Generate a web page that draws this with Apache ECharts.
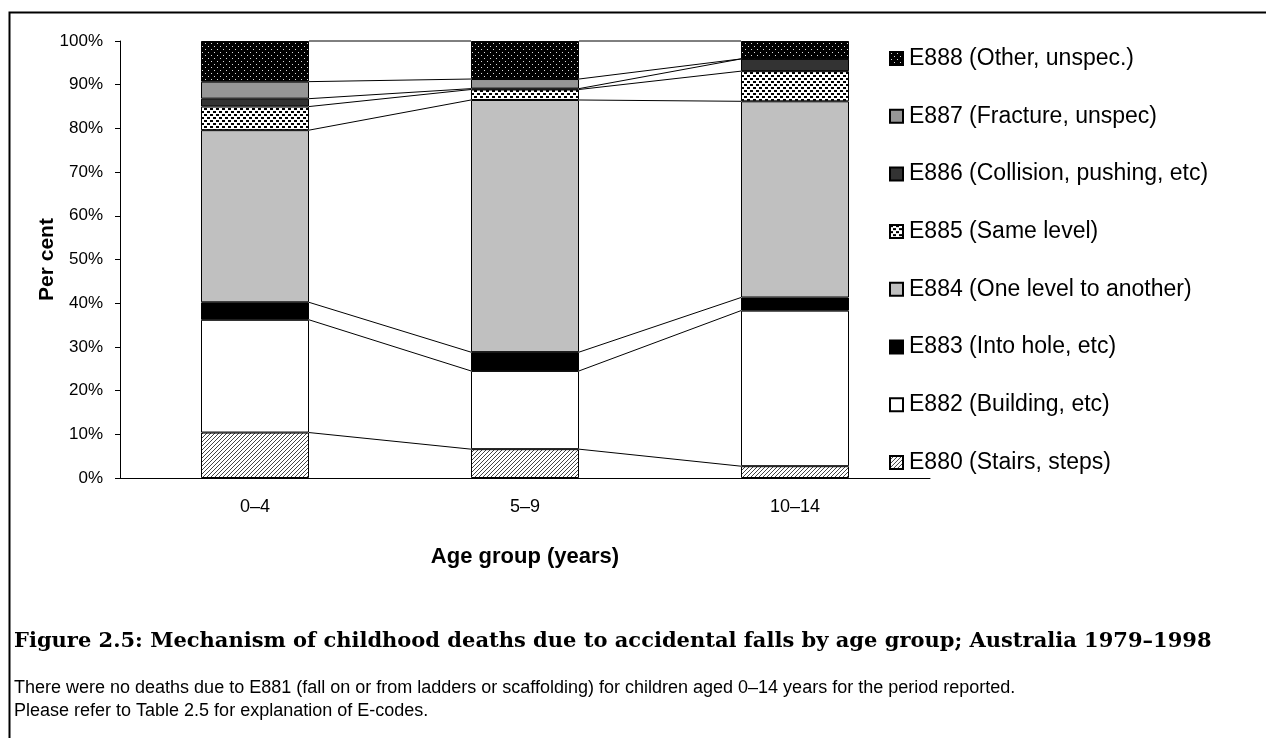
<!DOCTYPE html>
<html>
<head>
<meta charset="utf-8">
<script src="https://cdn.jsdelivr.net/npm/echarts@6/dist/echarts.min.js"></script>
<style>
html,body{margin:0;padding:0;background:#fff;}
#chart{width:1266px;height:738px;}
</style>
</head>
<body>
<div id="chart"></div>
<script>
// ---- data ----
const categories = ['0–4', '5–9', '10–14'];
const seriesNames = [
  'E880 (Stairs, steps)',
  'E882 (Building, etc)',
  'E883 (Into hole, etc)',
  'E884 (One level to another)',
  'E885 (Same level)',
  'E886 (Collision, pushing, etc)',
  'E887 (Fracture, unspec)',
  'E888 (Other, unspec.)'
];
const e880 = [10.4, 6.6, 2.7];
const e882 = [25.8, 17.9, 35.6];
const e883 = [4.0, 4.3, 3.0];
const e884 = [39.4, 57.7, 44.9];
const e885 = [5.4, 2.4, 6.9];
const e886 = [1.8, 0.2, 2.8];
const e887 = [3.9, 2.2, 0.0];
const e888 = [9.3, 8.7, 4.1];
const yTicks = [0, 10, 20, 30, 40, 50, 60, 70, 80, 90, 100];
const titleText = 'Figure 2.5: Mechanism of childhood deaths due to accidental falls by age group; Australia 1979–1998';
const note1 = 'There were no deaths due to E881 (fall on or from ladders or scaffolding) for children aged 0–14 years for the period reported.';
const note2 = 'Please refer to Table 2.5 for explanation of E-codes.';

const values = [e880, e882, e883, e884, e885, e886, e887, e888];

// ---- patterns ----
function tile(w, h, draw) {
  const c = document.createElement('canvas');
  c.width = w; c.height = h;
  const g = c.getContext('2d');
  draw(g);
  return { image: c, repeat: 'repeat' };
}
const patDots = tile(6, 6, g => {
  g.fillStyle = '#000'; g.fillRect(0, 0, 6, 6);
  g.fillStyle = '#ddd'; g.fillRect(1, 1, 1, 1); g.fillRect(4, 4, 1, 1);
});
const patSquares = tile(6, 6, g => {
  g.fillStyle = '#fff'; g.fillRect(0, 0, 6, 6);
  g.fillStyle = '#000'; g.fillRect(0, 0, 3, 2); g.fillRect(3, 3, 3, 2);
});
const patHatch = tile(4, 4, g => {
  g.fillStyle = '#fff'; g.fillRect(0, 0, 4, 4);
  g.fillStyle = '#444';
  g.fillRect(3, 0, 1, 1); g.fillRect(2, 1, 1, 1); g.fillRect(1, 2, 1, 1); g.fillRect(0, 3, 1, 1);
});

const fills = [patHatch, '#ffffff', '#000000', '#c0c0c0', patSquares, '#333333', '#969696', patDots];

const font = 'Liberation Sans, Arial, sans-serif';

const barSeries = seriesNames.map((name, k) => ({
  name: name,
  type: 'bar',
  stack: 'total',
  barWidth: '40%',
  data: values[k],
  itemStyle: { color: fills[k], borderColor: '#000', borderWidth: 1 },
  emphasis: { disabled: true }
}));

// series lines connecting segment tops between adjacent bars
const connector = {
  type: 'custom',
  name: 'connectors',
  silent: true,
  data: categories.slice(0, -1).map((c, i) => [i, 0]),
  encode: { x: 0, y: 1 },
  renderItem: function (params, api) {
    const i = api.value(0);
    const band = api.size([1, 0])[0];
    const half = band * 0.4 / 2;
    const children = [];
    let cumA = 0, cumB = 0;
    for (let k = 0; k < values.length; k++) {
      cumA += values[k][i];
      cumB += values[k][i + 1];
      const pa = api.coord([i, cumA]);
      const pb = api.coord([i + 1, cumB]);
      children.push({
        type: 'line',
        shape: { x1: pa[0] + half, y1: pa[1], x2: pb[0] - half, y2: pb[1] },
        style: { stroke: '#000', lineWidth: 1 }
      });
    }
    return { type: 'group', children: children };
  },
  z: 1
};

const chart = echarts.init(document.getElementById('chart'), null, { renderer: 'canvas' });
chart.setOption({
  animation: false,
  backgroundColor: '#fff',
  title: [
    { text: titleText, left: 14, top: 631, padding: 0,
      textStyle: { fontFamily: 'DejaVu Serif, serif', fontWeight: 'bold', fontSize: 21, color: '#000' } },
    { text: note1, left: 14, top: 679, padding: 0,
      textStyle: { fontFamily: font, fontWeight: 'normal', fontSize: 18, color: '#000' } },
    { text: note2, left: 14, top: 702, padding: 0,
      textStyle: { fontFamily: font, fontWeight: 'normal', fontSize: 18, color: '#000' } }
  ],
  graphic: [
    { type: 'rect', left: 7, top: 10, shape: { x: 0, y: 0, width: 1300, height: 800 },
      style: { fill: 'none', stroke: '#000', lineWidth: 2 }, silent: true, z: -10 }
  ],
  legend: {
    orient: 'vertical',
    left: 884,
    top: 42,
    itemWidth: 13,
    itemHeight: 13,
    itemGap: 34.7,
    icon: 'rect',
    selectedMode: false,
    data: seriesNames.slice().reverse(),
    textStyle: { fontFamily: font, fontSize: 23, color: '#000', padding: [0, 0, 0, 1] }
  },
  grid: { left: 120, top: 41, width: 810, height: 437, containLabel: false },
  xAxis: {
    type: 'category',
    data: categories,
    name: 'Age group (years)',
    nameLocation: 'middle',
    nameGap: 68,
    nameMoveOverlap: false,
    nameTextStyle: { fontFamily: font, fontWeight: 'bold', fontSize: 22, color: '#000' },
    axisLine: { lineStyle: { color: '#000', width: 1 } },
    axisTick: { show: false },
    axisLabel: { fontFamily: font, fontSize: 18, color: '#000', margin: 20 }
  },
  yAxis: {
    type: 'value',
    min: yTicks[0],
    max: yTicks[yTicks.length - 1],
    interval: yTicks[1] - yTicks[0],
    name: 'Per cent',
    nameLocation: 'middle',
    nameRotate: 90,
    nameGap: 62,
    nameMoveOverlap: false,
    nameTextStyle: { fontFamily: font, fontWeight: 'bold', fontSize: 21, color: '#000' },
    splitLine: { show: false },
    axisLine: { show: true, lineStyle: { color: '#000', width: 1 } },
    axisTick: { show: true, length: 5, lineStyle: { color: '#000' } },
    axisLabel: { fontFamily: font, fontSize: 17, color: '#000', margin: 17, formatter: '{value}%' }
  },
  series: barSeries.concat([connector])
});
</script>
</body>
</html>
